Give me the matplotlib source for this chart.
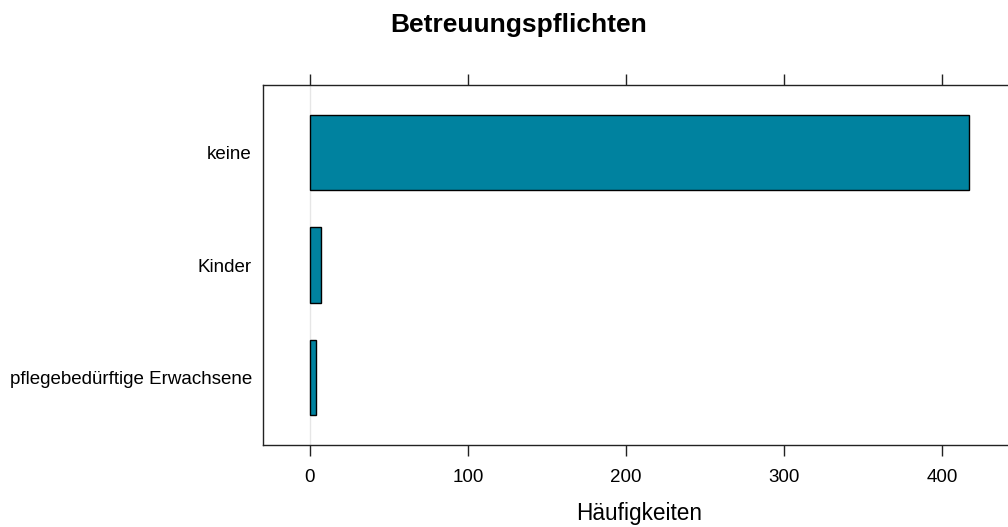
import matplotlib
matplotlib.use('Agg')
import matplotlib.pyplot as plt

plt.rcParams['font.family'] = ['Liberation Sans', 'DejaVu Sans']

# Daten
categories = ['pflegebedürftige Erwachsene', 'Kinder', 'keine']
counts = [4, 7, 417]
xticks = [0, 100, 200, 300, 400]

fig = plt.figure(figsize=(10.08, 5.27), dpi=100)
ax = fig.add_axes([263 / 1008, 1 - 445 / 527, (1015 - 263) / 1008, (445 - 85) / 527])

pos = list(range(1, len(categories) + 1))
ax.axvline(0, color='#e6e6e6', lw=1, zorder=0)
ax.barh(pos, counts, height=0.67, color='#00829f', edgecolor='black', linewidth=1, zorder=2)

ax.set_xlim(-29.7, 446)
ax.set_ylim(0.4, 3.6)
ax.set_yticks(pos)
ax.set_yticklabels(categories, fontsize=13.5)
ax.tick_params(axis='y', length=0, pad=8)
ax.set_xticks(xticks)
ax.tick_params(axis='x', top=True, bottom=True, direction='out', length=8, width=1,
               labelsize=13.5, pad=9.5, color='#222222')
for s in ax.spines.values():
    s.set_color('#222222')
    s.set_linewidth(1)

ax.set_xlabel('Häufigkeiten', fontsize=16.3, labelpad=11)
fig.text(519 / 1008, 1 - 25 / 527, 'Betreuungspflichten', ha='center', va='center',
         fontsize=19, fontweight='bold')

fig.savefig('out.png', dpi=100)
